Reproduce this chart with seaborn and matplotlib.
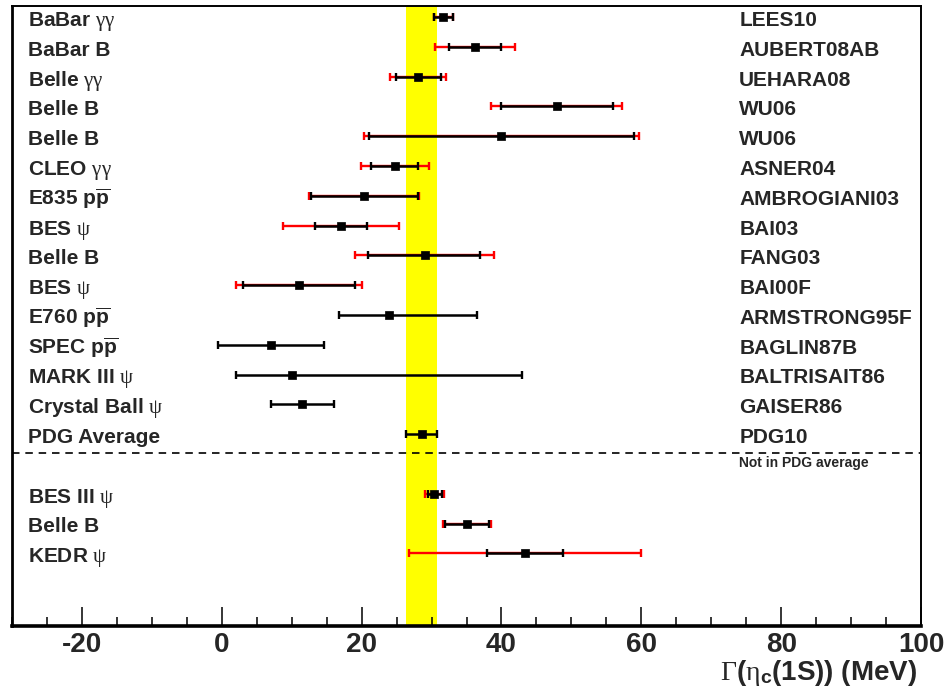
import numpy as np
import pandas as pd
import matplotlib
matplotlib.use("Agg")
import matplotlib.pyplot as plt
from matplotlib.ticker import MultipleLocator
import seaborn as sns

# ---------------- data ----------------
experiments = [
    r"BaBar $\mathrm{\gamma\gamma}$", "BaBar B", r"Belle $\mathrm{\gamma\gamma}$",
    "Belle B", "Belle B", r"CLEO $\mathrm{\gamma\gamma}$",
    r"E835 $\mathbf{p}\overline{\mathbf{p}}$", r"BES $\mathrm{\psi}$", "Belle B",
    r"BES $\mathrm{\psi}$", r"E760 $\mathbf{p}\overline{\mathbf{p}}$",
    r"SPEC $\mathbf{p}\overline{\mathbf{p}}$", r"MARK III $\mathrm{\psi}$",
    r"Crystal Ball $\mathrm{\psi}$", "PDG Average",
    r"BES III $\mathrm{\psi}$", "Belle B", r"KEDR $\mathrm{\psi}$",
]
references = [
    "LEES10", "AUBERT08AB", "UEHARA08", "WU06", "WU06", "ASNER04",
    "AMBROGIANI03", "BAI03", "FANG03", "BAI00F", "ARMSTRONG95F",
    "BAGLIN87B", "BALTRISAIT86", "GAISER86", "PDG10", "", "", "",
]
width = [31.7, 36.2, 28.1, 47.9, 40.0, 24.8, 20.4, 17.0, 29.0, 11.0,
         23.9, 7.0, 10.1, 11.5, 28.6, 30.4, 35.0, 43.4]
stat_lo = [1.3, 3.7, 3.2, 7.9, 19.0, 3.4, 7.7, 3.7, 8.1, 8.0,
           7.1, 7.5, 8.1, 4.5, 2.2, 0.9, 3.1, 5.4]
stat_hi = [1.3, 3.8, 3.2, 8.0, 18.9, 3.3, 7.7, 3.7, 8.0, 8.1,
           12.6, 7.6, 32.9, 4.5, 2.2, 1.1, 3.2, 5.4]
tot_lo = [1.4, 5.7, 4.0, 9.4, 19.7, 4.9, 7.9, 8.3, 10.0, 9.0,
          np.nan, np.nan, np.nan, np.nan, np.nan, 1.3, 3.4, 16.6]
tot_hi = [1.4, 5.8, 3.9, 9.4, 19.6, 4.9, 7.8, 8.3, 10.0, 9.1,
          np.nan, np.nan, np.nan, np.nan, np.nan, 1.4, 3.5, 16.6]
pdg_value = 28.6
pdg_error = 2.2
n_in_average = 15
separator_text = "Not in PDG average"
xlabel = r"$\mathrm{\Gamma}$($\mathrm{\eta}_{\mathbf{c}}$(1S)) (MeV)"

# ---------------- style ----------------
sns.set_theme(style="white")
plt.rcParams["font.family"] = ["Liberation Sans", "DejaVu Sans"]
plt.rcParams["axes.unicode_minus"] = False
plt.rcParams["mathtext.fontset"] = "custom"
plt.rcParams["mathtext.rm"] = "Liberation Serif:normal"
plt.rcParams["mathtext.it"] = "Liberation Serif:italic:normal"
plt.rcParams["mathtext.bf"] = "Liberation Sans:bold"

idx = np.arange(len(width))
row = idx + (idx >= n_in_average)
df = pd.DataFrame({
    "exp": experiments, "ref": references, "width": width, "row": row,
    "slo": stat_lo, "shi": stat_hi, "tlo": tot_lo, "thi": tot_hi,
})

fig = plt.figure(figsize=(9.47, 6.91), dpi=100)
ax = fig.add_axes([12 / 947, 1 - 626 / 691, (921 - 12) / 947, (626 - 6) / 691])

ax.axvspan(pdg_value - pdg_error, pdg_value + pdg_error, color="#ffff00", zorder=0, lw=0)

tot = df.dropna(subset=["tlo"])
ax.errorbar(tot["width"], tot["row"], xerr=[tot["tlo"], tot["thi"]], fmt="none",
            ecolor="#ff0000", elinewidth=1.7, capsize=3.0, capthick=1.7, zorder=2)
ax.errorbar(df["width"], df["row"], xerr=[df["slo"], df["shi"]], fmt="none",
            ecolor="black", elinewidth=1.8, capsize=3.0, capthick=1.7, zorder=3)
sns.scatterplot(data=df, x="width", y="row", marker="s", color="black", s=32,
                edgecolor="black", linewidth=0.5, zorder=4, ax=ax, legend=False)

ax.axhline(n_in_average - 0.35, color="black", lw=1.2, ls=(0, (4.5, 3.5)), zorder=1)

for _, r in df.iterrows():
    ax.text(-27.7, r["row"] + 0.30, r["exp"], ha="left", va="baseline", fontsize=15,
            fontweight="bold")
    if r["ref"]:
        ax.text(74.0, r["row"] + 0.30, r["ref"], ha="left", va="baseline", fontsize=15,
                fontweight="bold")
ax.text(74.0, n_in_average + 0.12, separator_text, ha="left", va="baseline",
        fontsize=10, fontweight="bold")

ax.set_xlim(-30, 100)
ax.set_ylim(20.44, -0.37)
ax.set_yticks([])
ax.set_ylabel("")
ax.xaxis.set_major_locator(MultipleLocator(20))
ax.xaxis.set_minor_locator(MultipleLocator(5))
ax.tick_params(axis="x", which="major", direction="in", length=13.5, width=1.1,
               color="black", labelsize=20, pad=4, bottom=True)
ax.tick_params(axis="x", which="minor", direction="in", length=6.8, width=1.1,
               color="black", bottom=True)
for lab in ax.get_xticklabels():
    lab.set_fontweight("bold")
ax.set_xlabel(xlabel, fontsize=20, fontweight="bold", loc="right", labelpad=0)
ax.xaxis.set_label_coords(0.996, -0.052)

for side, lw in (("left", 2.0), ("bottom", 2.6), ("top", 1.4), ("right", 1.4)):
    ax.spines[side].set_visible(True)
    ax.spines[side].set_color("black")
    ax.spines[side].set_linewidth(lw)

fig.savefig("out.png", dpi=100)
